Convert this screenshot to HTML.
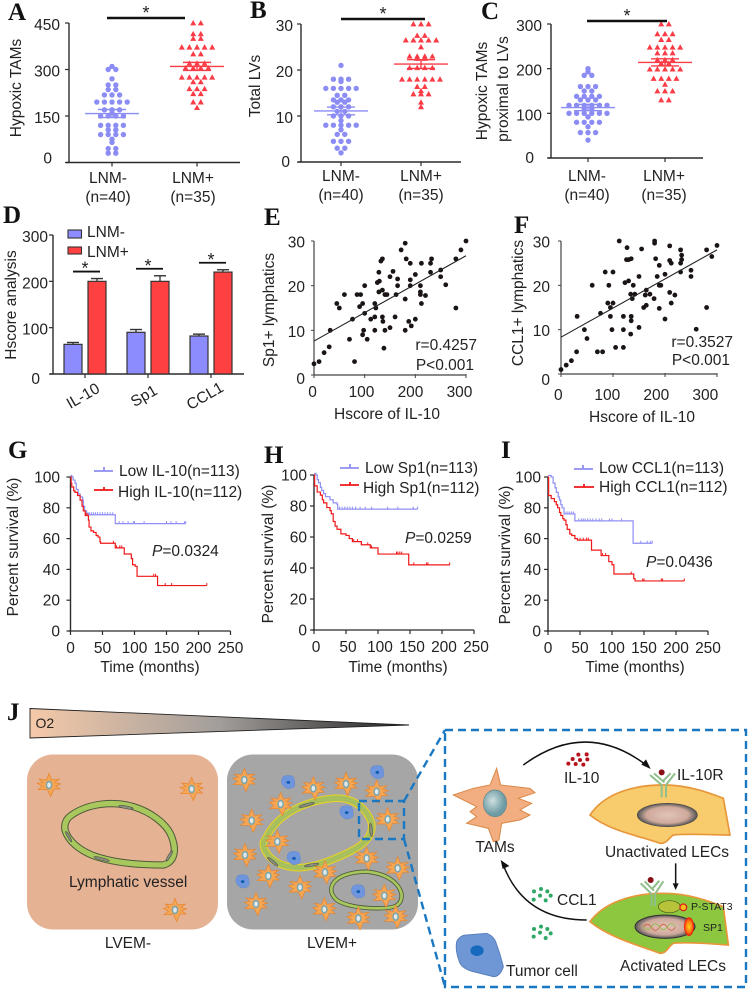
<!DOCTYPE html>
<html lang="en"><head><meta charset="utf-8"><title>Figure panels A-J</title>
<style>
html,body{margin:0;padding:0;background:#fff}
svg{display:block;font-family:"Liberation Sans",Arial,sans-serif;fill:#222}
.pl{font-family:"Liberation Serif",serif;font-weight:bold;font-size:25px;fill:#111}
.t{font-size:15.5px}
.m{text-anchor:middle}
.e{text-anchor:end}
</style></head><body>
<svg id="fig" xmlns="http://www.w3.org/2000/svg" width="749" height="992" viewBox="0 0 749 992">
<defs>
<linearGradient id="o2" x1="0" x2="1" y1="0" y2="0"><stop offset="0" stop-color="#f5c9a8"/><stop offset=".5" stop-color="#a29e9b"/><stop offset="1" stop-color="#222"/></linearGradient>
<radialGradient id="nuc"><stop offset="0" stop-color="#e2c4b8"/><stop offset=".7" stop-color="#cfa99c"/><stop offset="1" stop-color="#555"/></radialGradient>
<radialGradient id="spot"><stop offset="0" stop-color="#ffd21f"/><stop offset=".6" stop-color="#ff7a10"/><stop offset="1" stop-color="#e81010"/></radialGradient>
<radialGradient id="tn" cx=".4" cy=".4"><stop offset="0" stop-color="#cfe0e0"/><stop offset="1" stop-color="#6f9ca4"/></radialGradient>
<g id="tam"><path d="M0,-35 L8,-15 L32,-18 L18,-8 L35,-3 L20,2 L33,12 L15,12 L5,35 L-5,14 L-33,14 L-20,4 L-35,-5 L-18,-8 L-30,-18 L-8,-15 Z" fill="#f4a654" stroke="#e8842c" stroke-width="2"/><ellipse rx="10" ry="13" fill="#7fa5a8"/><ellipse rx="5.5" ry="8" fill="#dfe8ea"/></g>
<g id="blue"><path d="M-15,-18 Q0,-24 14,-18 Q22,-5 19,12 Q8,22 -6,18 Q-20,10 -21,-3 Q-21,-12 -15,-18 Z" fill="#6f95dc" stroke="#5a80c4"/><ellipse rx="5.5" ry="4.5" fill="#0f5fb0"/></g>
</defs>
<rect width="749" height="992" fill="#fff"/>

<text class="pl" x="8" y="20">A</text>
<text class="pl" x="250" y="18">B</text>
<text class="pl" x="481" y="19">C</text>
<text class="pl" x="3" y="223">D</text>
<text class="pl" x="264" y="225">E</text>
<text class="pl" x="514" y="233">F</text>
<text class="pl" x="8" y="458">G</text>
<text class="pl" x="264" y="463">H</text>
<text class="pl" x="501" y="458">I</text>
<text class="pl" x="7" y="720">J</text>

<g id="charts"></g>

<g class="t">
<text class="m" transform="translate(21,88) rotate(-90)">Hypoxic TAMs</text>
<text class="m" transform="translate(260,86) rotate(-90)">Total LVs</text>
<text class="m" transform="translate(487,91) rotate(-90)">Hypoxic TAMs</text>
<text class="m" transform="translate(508,89) rotate(-90)">proximal to LVs</text>
<text class="m" transform="translate(16,305) rotate(-90)">Hscore analysis</text>
<text class="m" transform="translate(274,310) rotate(-90)">Sp1+ lymphatics</text>
<text class="m" transform="translate(523,303) rotate(-90)">CCL1+ lymphatics</text>
<text class="m" x="387" y="419">Hscore of IL-10</text>
<text class="m" x="642" y="422">Hscore of IL-10</text>
<text class="e" x="477" y="350">r=0.4257</text>
<text class="e" x="474" y="370">P&lt;0.001</text>
<text class="e" x="733" y="347">r=0.3527</text>
<text class="e" x="730" y="365">P&lt;0.001</text>
<text class="m" transform="translate(18,547) rotate(-90)">Percent survival (%)</text>
<text class="m" transform="translate(273,554) rotate(-90)">Percent survival (%)</text>
<text class="m" transform="translate(510,555) rotate(-90)">Percent survival (%)</text>
<text class="m" x="150" y="672">Time (months)</text>
<text class="m" x="398" y="672">Time (months)</text>
<text class="m" x="635" y="672">Time (months)</text>
<text x="152" y="556"><tspan font-style="italic">P</tspan>=0.0324</text>
<text x="405" y="543"><tspan font-style="italic">P</tspan>=0.0259</text>
<text x="646" y="567"><tspan font-style="italic">P</tspan>=0.0436</text>
<text x="119" y="476">Low IL-10(n=113)</text>
<text x="118" y="497">High IL-10(n=112)</text>
<text x="365" y="473">Low Sp1(n=113)</text>
<text x="363" y="493">High Sp1(n=112)</text>
<text x="599" y="473">Low CCL1(n=113)</text>
<text x="599" y="492">High CCL1(n=112)</text>
<text x="87" y="237">LNM-</text>
<text x="87" y="257">LNM+</text>
</g>
<g>
<rect x="68" y="230" width="13.5" height="8" fill="#8c8cff" stroke="#333" stroke-width="1.1"/>
<rect x="68" y="247" width="13.5" height="7" fill="#ff4040" stroke="#333" stroke-width="1.1"/>
<path d="M94,471H113M104,467V471" stroke="#8f8ff0" stroke-width="1.8" fill="none"/>
<path d="M94,490H113M104,487V490" stroke="#f01818" stroke-width="1.8" fill="none"/>
<path d="M340,468H359M350,464V468" stroke="#8f8ff0" stroke-width="1.8" fill="none"/>
<path d="M340,485H359M350,482V485" stroke="#f01818" stroke-width="1.8" fill="none"/>
<path d="M574,469H593M583,465V469" stroke="#8f8ff0" stroke-width="1.8" fill="none"/>
<path d="M574,487H594M584,484V487" stroke="#f01818" stroke-width="1.8" fill="none"/>
</g>

<!-- Panel J -->
<g>
<path d="M30,708.5 L409,725 L30,738 Z" fill="url(#o2)" stroke="#222" stroke-width=".9"/>
<rect x="27" y="754.5" width="191" height="175" rx="26" fill="#e5b294"/>
<rect x="227" y="754.5" width="191" height="175" rx="26" fill="#a6a6a6"/>
<g transform="translate(0,690) scale(.33333)">
<path d="M215,375 C265,340 340,332 400,350 C450,365 500,400 515,440 C530,480 525,515 490,525 C430,525 340,520 275,495 C240,480 205,455 195,420 C192,400 200,385 215,375 Z" fill="none" stroke="#4d5a3a" stroke-width="22"/>
<path d="M215,375 C265,340 340,332 400,350 C450,365 500,400 515,440 C530,480 525,515 490,525 C430,525 340,520 275,495 C240,480 205,455 195,420 C192,400 200,385 215,375 Z" fill="none" stroke="#a8c85e" stroke-width="16"/>
<g fill="#8a8f7e" stroke="#444" stroke-width="1.5">
<ellipse cx="378" cy="352" rx="22" ry="4" transform="rotate(10 378 352)"/><ellipse cx="305" cy="507" rx="24" ry="4" transform="rotate(15 305 507)"/><ellipse cx="508" cy="498" rx="18" ry="4" transform="rotate(-60 508 498)"/><ellipse cx="206" cy="440" rx="18" ry="3.5" transform="rotate(60 206 440)"/>
</g>
<path d="M800,440 C830,380 900,335 1000,325 C1060,320 1100,355 1115,400 C1120,440 1090,465 1050,485 C1000,510 950,530 900,533 C850,535 800,510 790,465 C788,455 795,450 800,440 Z" fill="none" stroke="#e6d02a" stroke-width="23"/>
<path d="M800,440 C830,380 900,335 1000,325 C1060,320 1100,355 1115,400 C1120,440 1090,465 1050,485 C1000,510 950,530 900,533 C850,535 800,510 790,465 C788,455 795,450 800,440 Z" fill="none" stroke="#a8bf5e" stroke-width="16"/>
<g fill="#8a8f7e" stroke="#444" stroke-width="1.5">
<ellipse cx="920" cy="345" rx="24" ry="4" transform="rotate(-15 920 345)"/><ellipse cx="1113" cy="420" rx="20" ry="4" transform="rotate(85 1113 420)"/><ellipse cx="935" cy="525" rx="22" ry="4" transform="rotate(-10 935 525)"/><ellipse cx="818" cy="515" rx="20" ry="4" transform="rotate(40 818 515)"/>
</g>
<path d="M995,590 C1005,560 1050,545 1100,545 C1160,550 1200,580 1205,615 C1205,650 1180,655 1130,655 C1080,655 1030,645 1010,630 C995,615 992,605 995,590 Z" fill="none" stroke="#4d5a3a" stroke-width="13"/>
<path d="M995,590 C1005,560 1050,545 1100,545 C1160,550 1200,580 1205,615 C1205,650 1180,655 1130,655 C1080,655 1030,645 1010,630 C995,615 992,605 995,590 Z" fill="none" stroke="#a8c85e" stroke-width="8"/>
<g>
<use href="#tam" x="147" y="285"/><use href="#tam" x="575" y="297"/><use href="#tam" x="525" y="660"/>
</g>
<g>
<use href="#tam" x="733" y="270"/><use href="#tam" x="940" y="295"/><use href="#tam" x="1038" y="282"/><use href="#tam" x="1130" y="305"/><use href="#tam" x="842" y="342"/><use href="#tam" x="755" y="392"/><use href="#tam" x="1163" y="388"/><use href="#tam" x="832" y="455"/><use href="#tam" x="735" y="495"/><use href="#tam" x="1100" y="505"/><use href="#tam" x="805" y="558"/><use href="#tam" x="975" y="547"/><use href="#tam" x="1193" y="535"/><use href="#tam" x="900" y="592"/><use href="#tam" x="1153" y="617"/><use href="#tam" x="768" y="642"/><use href="#tam" x="973" y="658"/><use href="#tam" x="1075" y="685"/><use href="#tam" x="1187" y="680"/>
</g>
<g>
<use href="#blue" x="865" y="277"/><use href="#blue" x="1132" y="247"/><use href="#blue" x="1040" y="368"/><use href="#blue" x="882" y="505"/><use href="#blue" x="728" y="575"/><use href="#blue" x="1075" y="605"/>
</g>
</g>
<text x="35.5" y="728" font-size="14">O2</text>
<text class="t" x="69" y="887">Lymphatic vessel</text>
<text class="t m" x="128" y="948">LVEM-</text>
<text class="t m" x="332" y="948">LVEM+</text>
<g fill="none" stroke="#1a78c2" stroke-width="2.4" stroke-dasharray="8 5">
<rect x="359" y="801" width="45" height="38"/>
<path d="M404,801 L445,730"/>
<path d="M404,839 L445,987"/>
<rect x="445" y="730" width="301" height="257"/>
</g>
</g>
<g>
<g transform="translate(430,720) scale(.33333)">
<path d="M200,145 L212,195 L300,205 L315,218 L265,235 L305,250 L270,270 L300,285 L270,300 L215,310 L207,360 L190,365 L175,325 L110,310 L140,290 L120,275 L140,260 L70,225 L130,205 L180,195 Z" fill="#f2ad80" stroke="#d98848" stroke-width="3"/>
<ellipse cx="195" cy="250" rx="35" ry="40" fill="url(#tn)" stroke="#5f8a90" stroke-width="2"/>
<path d="M280,135 Q470,-5 655,140" fill="none" stroke="#111" stroke-width="4.5"/>
<path d="M662,147 L634,134 L648,118 Z" fill="#111"/>
<g fill="#b5121b">
<circle cx="445" cy="104" r="6"/><circle cx="470" cy="103" r="6"/><circle cx="428" cy="117" r="6"/><circle cx="450" cy="120" r="6"/><circle cx="472" cy="118" r="6"/><circle cx="415" cy="131" r="6"/><circle cx="437" cy="132" r="6"/><circle cx="460" cy="134" r="6"/>
</g>
<path d="M480,285 C520,225 600,195 700,195 C770,195 830,215 880,235 L900,345 C850,345 780,340 730,345 C715,355 710,372 690,370 C640,350 540,335 480,285 Z" fill="#f8cc6c" stroke="#e8963a" stroke-width="5"/>
<ellipse cx="712" cy="285" rx="90" ry="35" fill="url(#nuc)" stroke="#444" stroke-width="2"/>
<path d="M660,165 L695,195 V232 M672,160 L703,187 M735,160 L708,195 V232 M722,160 L700,182" fill="none" stroke="#8fbf8a" stroke-width="6"/>
<circle cx="695" cy="157" r="9" fill="#8b0f18"/>
<path d="M737,430 V500" stroke="#111" stroke-width="4.5"/>
<path d="M737,510 L728,490 H746 Z" fill="#111"/>
<path d="M480,605 C520,550 600,520 700,520 C770,520 830,540 880,560 L895,675 C850,672 780,665 730,670 C715,680 710,700 690,700 C640,680 540,655 480,605 Z" fill="#8dc63f" stroke="#e8963a" stroke-width="5"/>
<ellipse cx="705" cy="620" rx="90" ry="35" fill="url(#nuc)" stroke="#333" stroke-width="3"/>
<path d="M640,622 q12,-18 24,0 t24,0 t24,0 t24,0" fill="none" stroke="#cf5a3a" stroke-width="2.5"/>
<path d="M640,620 q12,18 24,0 t24,0 t24,0 t24,0" fill="none" stroke="#8fbf4a" stroke-width="2.5"/>
<ellipse cx="777" cy="620" rx="15" ry="28" fill="url(#spot)"/>
<ellipse cx="718" cy="560" rx="33" ry="18" fill="#b7c43a" stroke="#4a5a1a" stroke-width="2"/>
<circle cx="760" cy="562" r="10" fill="#f6c21a" stroke="#e02020" stroke-width="4"/>
<path d="M632,490 L665,522 V558 M644,484 L672,512 M700,484 L675,522 V558 M688,482 L668,505" fill="none" stroke="#8fbf8a" stroke-width="6"/>
<circle cx="662" cy="480" r="9" fill="#8b0f18"/>
<path d="M470,600 Q280,600 218,430" fill="none" stroke="#111" stroke-width="4.5"/>
<path d="M212,420 L238,438 L218,447 Z" fill="#111"/>
<g fill="#2fa866">
<circle cx="333" cy="507" r="6"/><circle cx="312" cy="514" r="6"/><circle cx="352" cy="514" r="6"/><circle cx="330" cy="527" r="6"/><circle cx="362" cy="527" r="6"/><circle cx="311" cy="539" r="6"/><circle cx="347" cy="541" r="6"/>
<circle cx="333" cy="620" r="6"/><circle cx="312" cy="627" r="6"/><circle cx="352" cy="627" r="6"/><circle cx="330" cy="638" r="6"/><circle cx="362" cy="640" r="6"/><circle cx="311" cy="650" r="6"/><circle cx="347" cy="654" r="6"/>
</g>
<path d="M80,665 Q90,645 110,645 L170,640 Q195,650 200,675 Q210,700 220,740 Q210,770 190,770 Q150,760 130,755 Q95,745 88,725 Q75,690 80,665 Z" fill="#6f97d6" stroke="#5a80bc" stroke-width="3"/>
<ellipse cx="141" cy="692" rx="20" ry="16" fill="#1769bd"/>
</g>
<text class="t m" x="495" y="852">TAMs</text>
<text class="t" x="564" y="783">IL-10</text>
<text class="t" x="677" y="780">IL-10R</text>
<text class="t m" x="667" y="857">Unactivated LECs</text>
<text class="t m" x="673" y="971">Activated LECs</text>
<text class="t" x="506" y="976">Tumor cell</text>
<text class="t" x="557" y="905">CCL1</text>
<text x="691" y="910" font-size="10.5">P-STAT3</text>
<text x="703" y="931" font-size="10.5">SP1</text>
</g>
</svg>
<script>
// ---- Swarm data (A, B, C) ----
const aMinus=[310,300,300,270,250,250,235,235,218,218,218,195,195,195,195,195,170,170,170,160,150,150,150,150,120,120,120,120,105,105,90,90,90,90,75,65,45,45,30,30];
const aPlus=[450,450,415,415,400,400,372,372,372,372,372,350,350,320,320,320,305,305,305,305,275,275,275,275,275,260,260,238,238,238,222,222,195,195,177];
const bMinus=[21,18,18,18,17.5,16,16,16,16,16,14.5,14.5,13.5,13.5,13.5,13,13,12,12,12,11,11,10,10,10,9,8,8,8,8,8,7,6,6,4.5,4.5,4.5,3,3,2];
const bPlus=[30,30,30,27.5,27.5,26.5,26.5,26.5,26.5,26.5,25,23,23,23,23,22.5,22.5,20.5,20.5,20.5,20.5,18,18,18,18,18,18,16.4,16.4,15.5,14.8,14.8,14.8,13,12];
const cMinus=[200,193,185,185,160,160,160,150,150,138,138,138,138,130,130,130,118,118,118,118,118,118,110,110,100,100,100,100,100,100,92,80,80,80,80,70,57,57,57,40];
const cPlus=[300,300,278,278,278,265,265,248,248,248,248,248,235,235,235,220,220,220,212,212,199,199,199,199,199,178,178,178,178,165,150,150,150,130,130];
const aMean=[158,310];const aSem=[13,13];
const bMean=[11.1,21.3];const bSem=[.85,.95];
const cMean=[113,214];const cSem=[7,8];
const swarmCats=['LNM-','LNM+'];
const swarmN=['(n=40)','(n=35)'];
const aTicks=[0,150,300,450];
const bTicks=[0,10,20,30];
const cTicks=[0,100,200,300];
// ---- Bar data (D) ----
const dCats=['IL-10','Sp1','CCL1'];
const dMinus=[64,90,82];
const dPlus=[200,200,220];
const dMinusErr=[4,6,4];
const dPlusErr=[6,12,5];
const dTicks=[0,100,200,300];
// ---- Scatter data (E, F) ----
const eHscore=[0,10,20,30,32,45,50,60,70,76,80,85,92,90,96,96,98,100,100,105,112,120,120,120,122,125,129,128,128,132,135,135,135,136,138,140,140,144,150,150,156,160,162,165,165,172,180,180,180,182,187,190,190,190,192,200,200,210,210,210,212,212,220,230,232,230,250,250,260,280,280,290,300];
const eCount=[2.5,3,5,6.3,10,16,15,18,8,12.5,3,18,18,15.3,16,9,10,20,13.8,8,12.5,16,13,10,15,20.7,21,23,18.6,25.5,26,19,13,12,6,18,10,18,10.6,22,23.2,13,18,21.5,20,28,29.5,17,10,26,12,25,21.3,20,11,22.5,12.5,20,18.6,18,25,16,17.8,25,26,23,22,23.5,20.2,15,26,28,30];
const fHscore=[0,10,20,30,31,45,50,60,70,76,80,85,90,92,95,95,98,100,100,105,112,120,120,120,123,127,126,130,130,135,134,135,135,134,137,139,142,150,150,155,159,162,164,164,171,179,180,180,182,185,189,189,189,192,200,200,209,209,209,212,212,219,230,230,230,232,232,250,250,260,280,280,290,300];
const fCount=[1,2,3,5,13,10,8,20,5,13.7,5,23,16,20,15,13,10,23,16,6,30,6,10,13,20.6,28.5,25.8,21,25.8,26,18,13,12,9,17,20,18,22,10.5,28.2,15,17.8,18.9,15.5,18,17,30,29.5,26,22,20,14.8,24.5,20,22.5,12.4,28.9,25.6,18.4,25,16,17.8,28,25,23,26.8,25.8,23.4,22,10.1,28,15,26.5,29];
const eLine=[7.6,26.7];
const fLine=[8.3,28];
const scatterTicksX=[0,100,200,300];
const scatterTicksY=[0,10,20,30];
// ---- Survival data (G, H, I): [months, percent] ----
const gLow=[[0,101],[2,100],[4,98],[7,96],[9,92],[12,89],[15,87],[19,85],[20,81],[22,78],[25,76.5],[28,75.5],[70,69.7],[180,69.7]];
const gHigh=[[0,100],[1,96],[2,93.5],[5,91],[7,90],[11,88],[15,85],[18,81],[20,78],[23,75],[28,72],[29,67.5],[32,65],[36,64],[40,62],[43,61],[46,58],[47,57],[70,54],[84,50],[95,47],[97,43],[101,42],[104,35.5],[136,29.5],[213,29.5]];
const hLow=[[0,101],[3,100],[5,97],[7,95],[10,92],[12,90],[15,88],[18,86],[25,84],[30,82],[36,81],[37,78],[162,78]];
const hHigh=[[0,100],[1,93],[5,89],[10,87],[13,84],[15,82],[20,79],[25,77],[27,75],[30,70],[33,67],[36,65],[42,62],[50,61],[55,59],[60,57],[74,55],[88,53],[100,49],[148,42],[212,42]];
const iLow=[[0,101],[5,100],[8,96],[11,93],[13,90],[16,87],[18,85],[20,82],[22,80],[25,76],[42,71.5],[133,57],[163,57]];
const iHigh=[[0,100],[1,88],[5,86],[10,84],[13,82],[15,80],[18,77],[20,75],[23,73],[25,72],[28,69],[30,66],[34,63],[37,62],[42,60],[46,59],[68,52.5],[83,49],[95,45],[100,43],[103,37],[134,34],[136,32.5],[213,32.5]];
const gLowCensor=[30,33,36,39,42,46,50,54,58,62,66,76,82,90,98,100,115,150,157,165,178,180];
const gHighCensor=[24,26,67,72,77,80,130,133,148,158,213];
const hLowCensor=[40,44,48,52,56,60,65,72,80,90,115,131,155,162];
const hHighCensor=[62,68,74,84,90,129,131,134,137,156,176,178,212];
const iLowCensor=[25,28,31,34,37,40,48,52,55,58,62,66,70,75,80,84,96,100,115,145,155,160,163];
const iHighCensor=[50,55,60,63,85,90,130,148,150,177,179,213];
const kmTicksX=[0,50,100,150,200,250];
const kmTicksY=[0,20,40,60,80,100];

const NS='http://www.w3.org/2000/svg';
const root=document.getElementById('charts');
const BLUE='#8c8cf5',RED='#fa3c46',AXIS='#2b2b2b';
function lin(d0,d1,r0,r1){return v=>r0+(v-d0)*(r1-r0)/(d1-d0);}
function el(tag,parent,attrs){const n=document.createElementNS(NS,tag);for(const k in attrs)n.setAttribute(k,attrs[k]);parent.appendChild(n);return n;}
function group(name){const g=el('g',root,{});


return g;}
function line(parent,name,x1,y1,x2,y2,color,w){const n=el('line',parent,{x1,y1,x2,y2,stroke:color,'stroke-width':w});


return n;}
function label(parent,name,x,y,s,anchor,size){const n=el('text',parent,{x,y,'text-anchor':anchor,'font-size':size||15.5});
n.textContent=s;


return n;}
function yAxis(g,p,ticks,y,ax,top,bot,right,dy,zdx,zdy){
 line(g,'y-axis-'+p,ax,y(top),ax,bot,AXIS,1.4);
 ticks.forEach(t=>{line(g,'y-tick-'+p,ax-4,y(t),ax,y(t),AXIS,1.2);
  label(g,'y-tick-label-'+p,right+(t===0?zdx:0),y(t)+dy+(t===0?zdy:0),String(t),'end');});
}
function swarmPanel(p,vals,means,sems,ticks,cfg){
 const g=group('panel-'+p);
 const y=lin(ticks[0],ticks[ticks.length-1],cfg.y0,cfg.y1);
 const cx=[cfg.c0,cfg.c1];
 yAxis(g,p,ticks,y,cfg.ax,ticks[ticks.length-1],cfg.y0,cfg.right,7,cfg.zdx,cfg.zdy);
 line(g,'x-axis-'+p,cfg.ax-3,cfg.y0,cfg.xEnd,cfg.y0,AXIS,1.4);
 cx.forEach((c,i)=>{line(g,'x-tick-'+p,c,cfg.y0,c,cfg.y0+4,AXIS,1.2);
  label(g,'category-label-'+p,c+cfg.ldx,cfg.l1,swarmCats[i],'middle');
  label(g,'n-label-'+p,c+cfg.ldx,cfg.l2,swarmN[i],'middle');});
 vals.forEach((arr,i)=>{
  const counts={};arr.forEach(v=>counts[v]=(counts[v]||0)+1);
  const seen={};
  arr.forEach(v=>{
   const n=counts[v];const k=seen[v]=(seen[v]||0);seen[v]++;
   const off=(k-(n-1)/2)*7.6;
   const X=cx[i]+off,Y=y(v);
   if(i===0){const m=el('circle',g,{cx:X,cy:Y,r:2.7,fill:BLUE});
    
    
   }else{const m=el('path',g,{d:`M${X},${Y-3}L${X+3},${Y+2.4}L${X-3},${Y+2.4}Z`,fill:RED});
    
    }
  });
  const col=i?RED:BLUE;
  line(g,'mean-line',cx[i]-27,y(means[i]),cx[i]+27,y(means[i]),col,1.4);
  line(g,'sem-upper',cx[i]-14,y(means[i]+sems[i]),cx[i]+14,y(means[i]+sems[i]),col,1.4);
  line(g,'sem-lower',cx[i]-14,y(means[i]-sems[i]),cx[i]+14,y(means[i]-sems[i]),col,1.4);
  line(g,'sem-stem',cx[i],y(means[i]+sems[i]),cx[i],y(means[i]-sems[i]),col,1.4);
 });
 line(g,'significance-bar',cfg.s0,cfg.sy,cfg.s1,cfg.sy,'#111',2.6);
 label(g,'significance-star',(cfg.s0+cfg.s1)/2,cfg.sy+1,'*','middle',18);
}
swarmPanel('a',[aMinus,aPlus],aMean,aSem,aTicks,{y0:162.5,y1:23,ax:69,xEnd:240,c0:112,c1:197,right:60,zdx:-8,zdy:-6,ldx:-4,l1:183,l2:202,s0:107,s1:185,sy:18});
swarmPanel('b',[bMinus,bPlus],bMean,bSem,bTicks,{y0:162,y1:24,ax:301,xEnd:461,c0:341,c1:421,right:293,zdx:-3,zdy:-2,ldx:0,l1:181,l2:200,s0:341,s1:425,sy:19});
swarmPanel('c',[cMinus,cPlus],cMean,cSem,cTicks,{y0:158,y1:24,ax:551,xEnd:703,c0:588,c1:665,right:542,zdx:-8,zdy:-2,ldx:-1,l1:181,l2:200,s0:587,s1:667,sy:21});

// Panel D
(function(){
 const g=group('panel-d');
 const y=lin(0,300,374,235);
 const x=i=>85+i*63;
 yAxis(g,'d',dTicks,y,53,300,374,48,7,-8,3);
 line(g,'x-axis-d',50,374,244,374,AXIS,1.4);
 dCats.forEach((c,i)=>{
  line(g,'x-tick-d',x(i),374,x(i),378,AXIS,1.2);
  const lx=x(i)-2-i*2,ly=401;
  const t=label(g,'category-label-d',lx,ly,c,'middle');
  t.setAttribute('transform',`rotate(-30 ${lx} ${ly-5})`);
  [[dMinus,dMinusErr,-12,'#8c8cff','bar-lnm-minus'],[dPlus,dPlusErr,12,'#ff4040','bar-lnm-plus']].forEach(s=>{
   const v=s[0][i],e=s[1][i],cx=x(i)+s[2];
   line(g,'error-stem',cx,y(v),cx,y(v+e),'#333',1.3);
   line(g,'error-cap',cx-6,y(v+e),cx+6,y(v+e),'#333',1.4);
   const b=el('rect',g,{x:cx-9,y:y(v),width:18,height:374-y(v),fill:s[3],stroke:'#333','stroke-width':1.2});
   
   
  });
  const sy=y(dPlus[i]+dPlusErr[i])-7;
  line(g,'significance-bar',x(i)-12,sy,x(i)+15,sy,'#111',1.8);
  label(g,'significance-star',x(i),sy+3,'*','middle',18);
 });
})();

// Panels E, F
function scatterPanel(p,xs,ys,fit,cfg){
 const g=group('panel-'+p);
 const x=lin(0,300,cfg.x0,cfg.x1),y=lin(0,30,cfg.y0,cfg.y1);
 line(g,'y-axis-'+p,cfg.x0,cfg.y1,cfg.x0,cfg.y0,'#444',1.2);
 line(g,'x-axis-'+p,cfg.x0,cfg.y0,cfg.x1,cfg.y0,'#444',1.2);
 scatterTicksY.forEach((t,i)=>{line(g,'y-tick-'+p,cfg.x0-3,y(t),cfg.x0,y(t),'#444',1);
  label(g,'y-tick-label-'+p,cfg.right,y(t)+(t===0?cfg.zdy:6.5),String(t),'end');});
 scatterTicksX.forEach(t=>{line(g,'x-tick-'+p,x(t),cfg.y0-1,x(t),cfg.y0+3,'#444',1);
  label(g,'x-tick-label-'+p,x(t)+cfg.ldx*(t/300+.3),cfg.lb,String(t),'middle');});
 xs.forEach((v,i)=>{const m=el('circle',g,{cx:x(v),cy:y(ys[i]),r:2.4,fill:'#1a1414'});
  
  });
 line(g,'trend-line',x(0),y(fit[0]),x(300),y(fit[1]),'#222',1.1);
}
scatterPanel('e',eHscore,eCount,eLine,{x0:314,x1:466,y0:375,y1:241,right:305,zdy:9,lb:397,ldx:-5});
scatterPanel('f',fHscore,fCount,fLine,{x0:561,x1:717,y0:374,y1:241,right:550,zdy:11,lb:400,ldx:-9});

// Panels G, H, I
function survAt(c,t){let s=c[0][1];for(const p of c){if(p[0]<=t)s=p[1];else break;}return s;}
function stepPath(c,x,y){let d=`M${x(c[0][0])},${y(c[0][1])}`;for(let i=1;i<c.length;i++){d+=`H${x(c[i][0])}V${y(c[i][1])}`;}return d;}
function kmPanel(p,low,high,lowC,highC,cfg){
 const g=group('panel-'+p);
 const x=lin(0,250,cfg.x0,cfg.x0+160),y=lin(0,100,cfg.y0,cfg.y1);
 yAxis(g,p,kmTicksY,y,cfg.x0,100,cfg.y0,cfg.right,5.5,0,0);
 line(g,'x-axis-'+p,cfg.x0-2,cfg.y0,cfg.x0+160,cfg.y0,AXIS,1.3);
 kmTicksX.forEach(t=>{line(g,'x-tick-'+p,x(t),cfg.y0,x(t),cfg.y0+4,AXIS,1.2);
  label(g,'x-tick-label-'+p,x(t)+cfg.ldx,cfg.lb,String(t),'middle');});
 [[low,lowC,'#8f8ff5','low'],[high,highC,'#f01818','high']].forEach(s=>{
  const m=el('path',g,{d:stepPath(s[0],x,y),fill:'none',stroke:s[2],'stroke-width':1.2});
  
  
  s[1].forEach(t=>{const v=survAt(s[0],t);
   line(g,'censor-mark-'+s[3],x(t),y(v)-2.5,x(t),y(v),s[2],1);});
 });
}
kmPanel('g',gLow,gHigh,gLowCensor,gHighCensor,{x0:70.5,y0:631,y1:477,right:60,lb:653,ldx:0});
kmPanel('h',hLow,hHigh,hLowCensor,hHighCensor,{x0:314,y0:630,y1:475,right:307,lb:652,ldx:2});
kmPanel('i',iLow,iHigh,iLowCensor,iHighCensor,{x0:548,y0:631,y1:477,right:541,lb:653,ldx:0});
</script>
</body></html>
